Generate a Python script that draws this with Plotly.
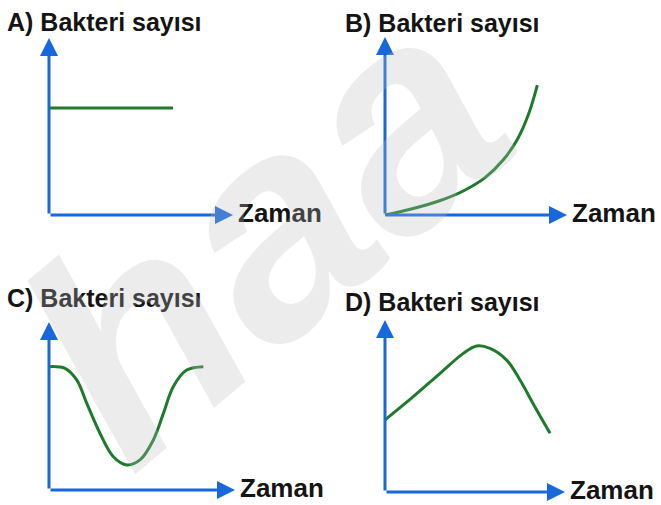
import plotly.graph_objects as go

# Four sketches of bacteria count over time
panel_titles = ["A) Bakteri sayısı", "B) Bakteri sayısı", "C) Bakteri sayısı", "D) Bakteri sayısı"]
x_label = "Zaman"

time_a = [0, 6.74]
count_a = [6.05, 6.05]

time_b = [0, 1.5, 3.0, 4.3, 5.5, 6.5, 7.3, 7.9, 8.37]
count_b = [0, 0.35, 0.8, 1.35, 2.1, 3.1, 4.3, 5.7, 7.3]

time_c = [0, 0.86, 1.49, 2.03, 2.74, 3.46, 4.18, 4.89, 5.61, 6.15, 6.68, 7.40, 8.30]
count_c = [7.34, 7.24, 6.55, 5.16, 3.38, 1.98, 1.49, 1.79, 2.98, 4.56, 6.15, 7.14, 7.34]

time_d = [0, 1.57, 3.06, 4.35, 5.09, 5.83, 6.76, 7.50, 8.30, 9.17]
count_d = [4.19, 5.54, 6.90, 8.06, 8.49, 8.35, 7.67, 6.51, 5.00, 3.41]

series = [(time_a, count_a), (time_b, count_b), (time_c, count_c), (time_d, count_d)]

W, H = 661, 505
AXIS_BLUE = "#1668dc"
CURVE_GREEN = "#1f7a2c"
TEXT_COLOR = "#141414"
FONT = "Liberation Sans"

# pixel layout of each small panel: origin (ox, oy) and axis lengths (w, h)
panels = [
    dict(ox=49, oy=215, w=184, h=177, title=(5, 22)),
    dict(ox=385, oy=215, w=182, h=178, title=(343, 23)),
    dict(ox=49, oy=490, w=186, h=168, title=(5, 298)),
    dict(ox=385, oy=492, w=180, h=172, title=(343, 302)),
]

PAD = 0.5  # data units beyond the axis ends so lines are not clipped
LO, HI = -PAD, 10 + PAD

fig = go.Figure()
layout = dict(
    width=W, height=H,
    margin=dict(l=0, r=0, t=0, b=0),
    paper_bgcolor="white", plot_bgcolor="rgba(0,0,0,0)",
    showlegend=False,
)
annotations = []

for i, (p, (tx, cy)) in enumerate(zip(panels, series)):
    n = "" if i == 0 else str(i + 1)
    xa, ya = "x" + n, "y" + n
    ux, uy = p["w"] / 10.0, p["h"] / 10.0
    x0 = (p["ox"] + LO * ux) / W
    x1 = (p["ox"] + HI * ux) / W
    y0 = 1 - (p["oy"] - LO * uy) / H
    y1 = 1 - (p["oy"] - HI * uy) / H
    axis_common = dict(showgrid=False, zeroline=False, showline=False,
                       showticklabels=False, ticks="", fixedrange=True)
    layout["xaxis" + n] = dict(domain=[x0, x1], range=[LO, HI], anchor=ya, **axis_common)
    layout["yaxis" + n] = dict(domain=[y0, y1], range=[LO, HI], anchor=xa, **axis_common)

    fig.add_trace(go.Scatter(
        x=tx, y=cy, mode="lines", xaxis=xa, yaxis=ya,
        line=dict(color=CURVE_GREEN, width=3, shape="spline", smoothing=1.0),
        hoverinfo="skip",
    ))

    # axis arrows
    for (ex, ey) in [(10, 0), (0, 10)]:
        annotations.append(dict(
            x=ex, y=ey, ax=0, ay=0, xref=xa, yref=ya, axref=xa, ayref=ya,
            text="", showarrow=True, arrowhead=2, arrowsize=1.2,
            arrowwidth=3, arrowcolor=AXIS_BLUE, standoff=0,
        ))

    # "Zaman" label at the end of the time axis
    annotations.append(dict(
        x=10, y=0, xref=xa, yref=ya, text="<b>" + x_label + "</b>", showarrow=False,
        xanchor="left", yanchor="middle", xshift=3, yshift=2,
        font=dict(family=FONT, size=26, color=TEXT_COLOR),
    ))

    # panel title
    annotations.append(dict(
        x=p["title"][0] / W, y=1 - p["title"][1] / H, xref="paper", yref="paper",
        text="<b>" + panel_titles[i] + "</b>", showarrow=False,
        xanchor="left", yanchor="middle",
        font=dict(family=FONT, size=25, color=TEXT_COLOR),
    ))

# translucent watermark across the sheet
annotations.append(dict(
    x=262 / W, y=1 - 232 / H, xref="paper", yref="paper",
    text="<b><i>haa</i></b>", showarrow=False, textangle=-40,
    xanchor="center", yanchor="middle",
    font=dict(family=FONT, size=300, color="rgba(187,187,187,0.28)"),
))

layout["annotations"] = annotations
fig.update_layout(**layout)
fig.write_html("out.html")
